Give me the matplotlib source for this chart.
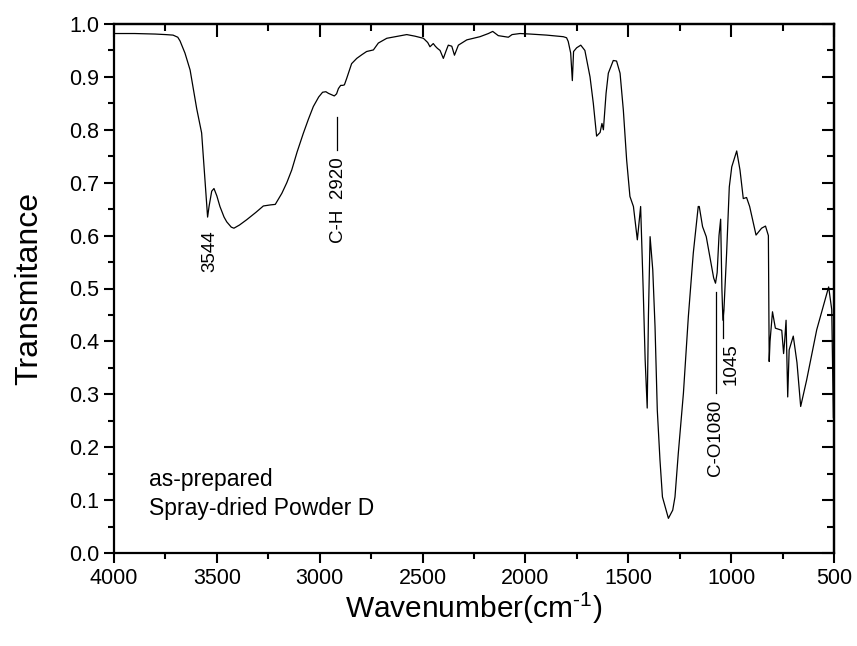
import matplotlib
matplotlib.use("Agg")
import matplotlib.pyplot as plt
from matplotlib.ticker import MultipleLocator

plt.rcParams['font.family'] = ['Liberation Sans', 'DejaVu Sans']
plt.rcParams['mathtext.fontset'] = 'custom'
plt.rcParams['mathtext.rm'] = 'Liberation Sans'

wavenumber = [4000, 3900, 3800, 3750, 3713, 3690, 3679, 3655, 3630, 3598, 3574, 3558, 3550, 3545, 3538,
              3525, 3514, 3500, 3485, 3465, 3452, 3430, 3417, 3390, 3355, 3310, 3274, 3240, 3216, 3184,
              3160, 3136, 3110, 3080, 3055, 3031, 3005, 2986, 2970, 2958, 2940, 2929, 2918, 2909, 2898,
              2888, 2880, 2869, 2845, 2820, 2795, 2772, 2739, 2715, 2674, 2620, 2577, 2537, 2496, 2475,
              2464, 2448, 2438, 2428, 2415, 2399, 2385, 2375, 2358, 2345, 2326, 2285, 2221, 2180, 2159,
              2132, 2100, 2083, 2065, 2026, 1977, 1897, 1816, 1800, 1792, 1780, 1772, 1766, 1751, 1731,
              1711, 1686, 1670, 1654, 1637, 1628, 1621, 1608, 1597, 1573, 1557, 1540, 1524, 1508, 1492,
              1475, 1456, 1440, 1427, 1418, 1408, 1402, 1394, 1381, 1370, 1359, 1346, 1334, 1321, 1305,
              1284, 1273, 1257, 1232, 1208, 1184, 1160, 1155, 1139, 1121, 1101, 1085, 1076, 1068, 1059,
              1051, 1045, 1040, 1035, 1022, 1009, 997, 973, 957, 941, 925, 910, 879, 852, 833,
              819, 815, 811, 799, 785, 754, 745, 740, 733, 725, 718, 698, 680, 662, 633,
              584, 526, 511, 503, 500]
transmittance = [0.982, 0.982, 0.981, 0.980, 0.979, 0.975, 0.968, 0.945, 0.913, 0.840, 0.794, 0.705, 0.660, 0.635, 0.655,
                 0.684, 0.689, 0.675, 0.655, 0.635, 0.626, 0.616, 0.614, 0.620, 0.630, 0.644, 0.656, 0.658, 0.659, 0.680,
                 0.700, 0.724, 0.758, 0.793, 0.820, 0.844, 0.862, 0.871, 0.872, 0.869, 0.866, 0.864, 0.868, 0.878, 0.884,
                 0.884, 0.885, 0.897, 0.925, 0.935, 0.942, 0.948, 0.951, 0.964, 0.973, 0.977, 0.980, 0.977, 0.973, 0.965,
                 0.957, 0.963, 0.958, 0.954, 0.950, 0.935, 0.950, 0.960, 0.958, 0.941, 0.960, 0.970, 0.976, 0.982, 0.986,
                 0.978, 0.976, 0.975, 0.980, 0.982, 0.981, 0.979, 0.976, 0.974, 0.967, 0.945, 0.893, 0.948, 0.955, 0.960,
                 0.950, 0.900, 0.850, 0.788, 0.795, 0.812, 0.800, 0.869, 0.907, 0.931, 0.930, 0.907, 0.837, 0.743, 0.674,
                 0.655, 0.592, 0.655, 0.491, 0.365, 0.274, 0.450, 0.598, 0.535, 0.428, 0.270, 0.176, 0.106, 0.0875, 0.0655,
                 0.081, 0.106, 0.188, 0.302, 0.447, 0.567, 0.655, 0.655, 0.617, 0.598, 0.554, 0.520, 0.510, 0.530, 0.600,
                 0.631, 0.500, 0.440, 0.460, 0.567, 0.692, 0.730, 0.760, 0.724, 0.670, 0.672, 0.655, 0.601, 0.614, 0.618,
                 0.600, 0.362, 0.400, 0.456, 0.425, 0.421, 0.377, 0.400, 0.440, 0.295, 0.384, 0.410, 0.360, 0.277, 0.327,
                 0.422, 0.503, 0.460, 0.255, 0.255]

x_ticks = [4000, 3500, 3000, 2500, 2000, 1500, 1000, 500]
y_ticks = [0.0, 0.1, 0.2, 0.3, 0.4, 0.5, 0.6, 0.7, 0.8, 0.9, 1.0]

# peak annotations: label, text x, text top y, marker line (x, y_top, y_bottom) or None
ann_labels = ["3544", "C-H  2920", "C-O1080", "1045"]
ann_text_x = [3533, 2909, 1078, 998]
ann_text_top = [0.610, 0.749, 0.289, 0.396]
ann_line_x = [None, 2914, 1074, 1041]
ann_line_top = [None, 0.825, 0.494, 0.459]
ann_line_bot = [None, 0.762, 0.302, 0.406]

legend_lines = ["as-prepared", "Spray-dried Powder D"]

fig = plt.figure(figsize=(8.57, 6.46), dpi=100)
ax = fig.add_axes([114/857, 1-553/646, 720/857, 529/646])

ax.plot(wavenumber, transmittance, color='black', lw=0.9)

ax.set_xlim(4000, 500)
ax.set_ylim(0.0, 1.0)
ax.set_xticks(x_ticks)
ax.set_yticks(y_ticks)
ax.set_yticklabels([f"{v:.1f}" for v in y_ticks])
ax.xaxis.set_minor_locator(MultipleLocator(250))
ax.yaxis.set_minor_locator(MultipleLocator(0.05))

ax.tick_params(which='both', direction='out', top=False, right=False, labelsize=15.5, width=1.5)
ax.tick_params(which='major', length=7)
ax.tick_params(which='minor', length=4)
for s in ax.spines.values():
    s.set_linewidth(1.6)

# inward ticks on top and right
secx = ax.secondary_xaxis('top')
secx.set_xticks(x_ticks)
secx.xaxis.set_minor_locator(MultipleLocator(250))
secx.tick_params(which='both', direction='in', labeltop=False, width=1.5)
secx.tick_params(which='major', length=9)
secx.tick_params(which='minor', length=5)
secx.spines['top'].set_linewidth(1.6)
secy = ax.secondary_yaxis('right')
secy.set_yticks(y_ticks)
secy.yaxis.set_minor_locator(MultipleLocator(0.05))
secy.tick_params(which='both', direction='in', labelright=False, width=1.5)
secy.tick_params(which='major', length=9)
secy.tick_params(which='minor', length=5)
secy.spines['right'].set_linewidth(1.6)

ax.set_xlabel(r"Wavenumber(cm$^{\text{-}1}$)", fontsize=21.5, labelpad=1)
ax.set_ylabel("Transmitance", fontsize=23, labelpad=18)

for lab, tx, tt, lx, lt, lb in zip(ann_labels, ann_text_x, ann_text_top, ann_line_x, ann_line_top, ann_line_bot):
    ax.text(tx, tt, lab, rotation=90, ha='center', va='top', fontsize=13.5)
    if lx is not None:
        ax.plot([lx, lx], [lt, lb], color='black', lw=0.9)

ax.text(0.048, 0.111, "\n".join(legend_lines), transform=ax.transAxes, fontsize=16.5,
        ha='left', va='center', linespacing=1.35)

fig.savefig("out.png", dpi=100)
